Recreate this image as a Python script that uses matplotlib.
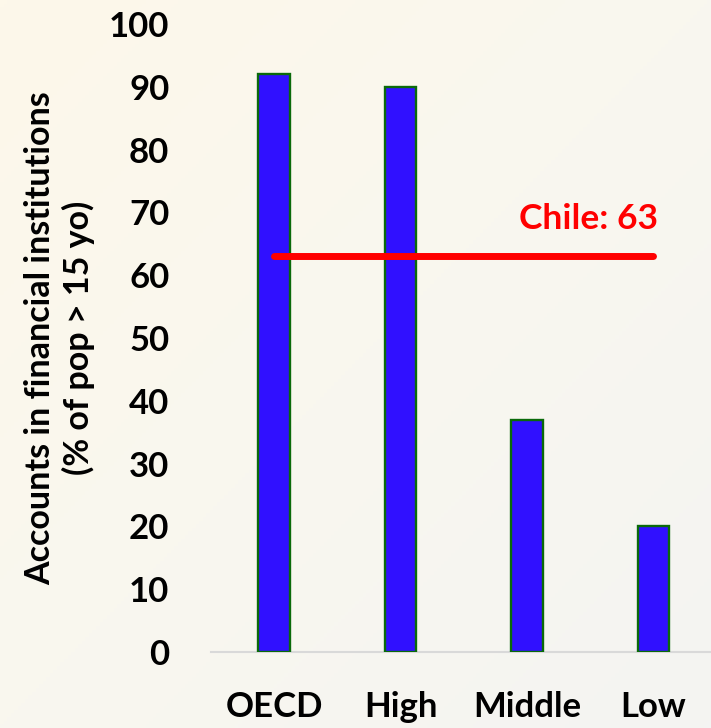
import numpy as np
import matplotlib
matplotlib.use('Agg')
import matplotlib.pyplot as plt
from matplotlib.colors import LinearSegmentedColormap

# account ownership by income group, % of population over 15
groups = ['OECD', 'High', 'Middle', 'Low']
accounts = [92, 90, 37, 20]
chile = 63
y_ticks = list(range(0, 101, 10))

plt.rcParams['font.family'] = ['Lato', 'DejaVu Sans']
plt.rcParams['font.weight'] = 'bold'

fig = plt.figure(figsize=(7.11, 7.28), dpi=100)

# soft cream background fading to light grey towards the bottom right
bg = fig.add_axes([0, 0, 1, 1], zorder=-10)
gx, gy = np.meshgrid(np.linspace(0, 1, 200), np.linspace(0, 1, 200))
grad = (gx * 0.5 + gy * 0.5)
cmap = LinearSegmentedColormap.from_list('bg', ['#fdf8ea', '#f9f7ef', '#f4f4f2'])
bg.imshow(grad, cmap=cmap, aspect='auto', extent=[0, 1, 0, 1], origin='upper')
bg.axis('off')

ax = fig.add_axes([211 / 711, 76 / 728, 500 / 711, 628 / 728])
ax.patch.set_alpha(0)

x = np.arange(len(groups))
ax.bar(x, accounts, width=0.25, color='#3010ff', edgecolor='#0a6a0a',
       linewidth=1.7, zorder=3)

ax.plot([0, len(groups) - 1], [chile, chile], color='#ff0000', lw=5,
        solid_capstyle='round', zorder=4)
ax.annotate('Chile: %d' % chile, xy=(len(groups) - 1 + 0.035, chile),
            xytext=(0, 20), textcoords='offset points', ha='right',
            va='baseline', color='#ff0000', fontsize=25.5, fontweight='bold')

ax.set_xlim(-0.5, 3.456)
ax.set_ylim(0, 100)
ax.set_xticks(x)
ax.set_xticklabels(groups, fontsize=25, fontweight='bold')
ax.set_yticks(y_ticks)
ax.set_yticklabels([str(t) for t in y_ticks], fontsize=25, fontweight='bold')
ax.tick_params(axis='both', length=0)
ax.tick_params(axis='y', pad=30)
ax.tick_params(axis='x', pad=28)

for s in ['top', 'right', 'left']:
    ax.spines[s].set_visible(False)
ax.spines['bottom'].set_color('#d9d9d9')
ax.spines['bottom'].set_linewidth(1.5)

ax.set_ylabel('Accounts in financial institutions\n(% of pop > 15 yo)',
              fontsize=24.5, fontweight='bold', linespacing=1.2,
              multialignment='center')
ax.yaxis.set_label_coords(-0.232, 0.5)

fig.savefig('out.png', dpi=100)
